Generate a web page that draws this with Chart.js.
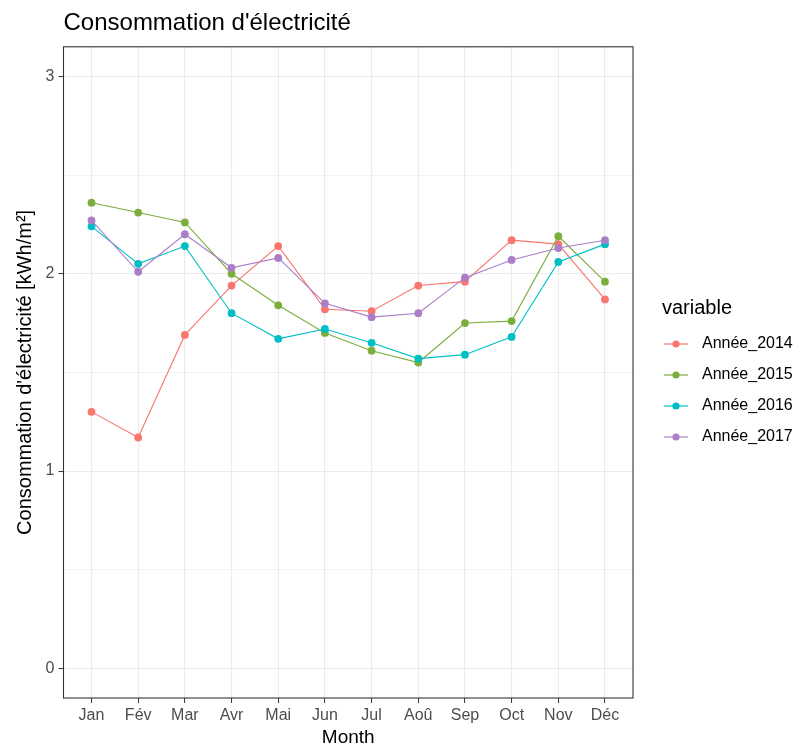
<!DOCTYPE html>
<html>
<head>
<meta charset="utf-8">
<script src="https://cdn.jsdelivr.net/npm/chart.js@4"></script>
<style>
body{margin:0;background:#fff}
</style>
</head>
<body>
<canvas id="myChart" width="801" height="745"></canvas>
<script>
const months = ['Jan','Fév','Mar','Avr','Mai','Jun','Jul','Aoû','Sep','Oct','Nov','Déc']
const annee_2014 = [1.30,1.17,1.69,1.94,2.14,1.82,1.81,1.94,1.96,2.17,2.15,1.87]
const annee_2015 = [2.36,2.31,2.26,2.00,1.84,1.70,1.61,1.55,1.75,1.76,2.19,1.96]
const annee_2016 = [2.24,2.05,2.14,1.80,1.67,1.72,1.65,1.57,1.59,1.68,2.06,2.15]
const annee_2017 = [2.27,2.01,2.20,2.03,2.08,1.85,1.78,1.80,1.98,2.07,2.13,2.17]
const yTicks = [0,0.5,1,1.5,2,2.5,3]
const yLabels = [0,1,2,3]

const FONT = "'Liberation Sans', Arial, sans-serif"

// little legend key: line with a dot, like ggplot
function makeKey(color){
    var c = document.createElement('canvas')
    c.width = 46
    c.height = 12
    var k = c.getContext('2d')
    k.strokeStyle = color
    k.lineWidth = 1.2
    k.beginPath()
    k.moveTo(16, 6)
    k.lineTo(40, 6)
    k.stroke()
    k.fillStyle = color
    k.beginPath()
    k.arc(28, 6, 3.6, 0, Math.PI*2)
    k.fill()
    return c
}

function series(label, values, color, order){
    return {
        label: label,
        data: values.map((v, i) => ({x: i, y: v})),
        borderColor: color,
        backgroundColor: color,
        borderWidth: 1.1,
        pointRadius: 3.9,
        pointBorderWidth: 0,
        pointHoverRadius: 3.9,
        pointStyle: 'circle',
        tension: 0,
        fill: false,
        order: order,
        key: makeKey(color)
    }
}

const panelBorder = {
    id: 'panelBorder',
    afterDatasetsDraw(chart){
        const a = chart.chartArea
        const c = chart.ctx
        c.save()
        c.strokeStyle = '#333333'
        c.lineWidth = 1.1
        c.strokeRect(a.left, a.top, a.right - a.left, a.bottom - a.top)
        c.restore()
    }
}

// legend title "variable", left-aligned a bit inside the legend box
const legendTitle = {
    id: 'legendTitle',
    afterDraw(chart){
        const lg = chart.legend
        if (!lg || !lg.legendHitBoxes.length) return
        const first = lg.legendHitBoxes[0]
        const c = chart.ctx
        c.save()
        c.fillStyle = '#000'
        c.font = '20px ' + FONT
        c.textBaseline = 'middle'
        c.textAlign = 'left'
        c.fillText('variable', lg.left + 29, first.top + first.height / 2 - 36)
        c.restore()
    }
}

var ctx = document.getElementById('myChart').getContext('2d')

var myChart = new Chart(ctx, {
    type: 'line',
    data: {
        datasets: [
            series('Année_2014', annee_2014, '#F8766D', 4),
            series('Année_2015', annee_2015, '#7CAE3E', 3),
            series('Année_2016', annee_2016, '#00BFC4', 2),
            series('Année_2017', annee_2017, '#AD7EC8', 1)
        ]
    },
    options: {
        responsive: false,
        animation: false,
        layout: {padding: 0},
        scales: {
            x: {
                type: 'linear',
                min: -0.6,
                max: 11.6,
                afterBuildTicks: s => { s.ticks = months.map((m, i) => ({value: i})) },
                afterFit: s => { s.height = 47 },
                ticks: {
                    callback: v => months[v],
                    color: '#4D4D4D',
                    font: {family: FONT, size: 16},
                    padding: 3,
                    autoSkip: false,
                    maxRotation: 0
                },
                grid: {color: '#EBEBEB', lineWidth: 1.1, tickColor: '#333333', tickLength: 5, tickWidth: 1},
                border: {display: false},
                title: {display: true, text: 'Month', color: '#000', font: {family: FONT, size: 19, lineHeight: 0.8}, padding: {top: 0, bottom: 0}}
            },
            y: {
                min: -0.15,
                max: 3.15,
                afterBuildTicks: s => { s.ticks = yTicks.map(v => ({value: v})) },
                afterFit: s => { s.width = 63.5 },
                ticks: {
                    callback: v => yLabels.includes(v) ? String(v) : '',
                    color: '#4D4D4D',
                    font: {family: FONT, size: 16},
                    padding: 4
                },
                grid: {
                    color: '#EBEBEB',
                    lineWidth: c => yLabels.includes(c.tick.value) ? 1.1 : 0.6,
                    tickColor: c => yLabels.includes(c.tick.value) ? '#333333' : 'rgba(0,0,0,0)',
                    tickLength: 5,
                    tickWidth: 1
                },
                border: {display: false},
                title: {display: true, text: "Consommation d'électricité [kWh/m²]", color: '#000', font: {family: FONT, size: 20}, padding: {top: 13, bottom: 0}}
            }
        },
        plugins: {
            title: {
                display: true,
                text: "Consommation d'électricité",
                align: 'start',
                fullSize: false,
                color: '#000',
                font: {family: FONT, size: 24, weight: 'normal'},
                padding: {top: 9, bottom: 9}
            },
            legend: {
                position: 'right',
                maxWidth: 168,
                // keeps room for the title, which is drawn by legendTitle
                title: {display: true, text: 'variable', color: 'rgba(0,0,0,0)', font: {family: FONT, size: 20}, padding: {top: 13, bottom: -1}},
                labels: {
                    color: '#000',
                    font: {family: FONT, size: 16},
                    usePointStyle: true,
                    pointStyleWidth: 46,
                    padding: 15,
                    generateLabels: chart => chart.data.datasets.map((d, i) => ({
                        text: d.label,
                        fontColor: '#000',
                        pointStyle: d.key,
                        fillStyle: d.borderColor,
                        strokeStyle: d.borderColor,
                        lineWidth: 0,
                        hidden: false,
                        datasetIndex: i
                    }))
                }
            },
            tooltip: {enabled: false}
        }
    },
    plugins: [panelBorder, legendTitle]
})
myChart.update()
</script>
</body>
</html>
